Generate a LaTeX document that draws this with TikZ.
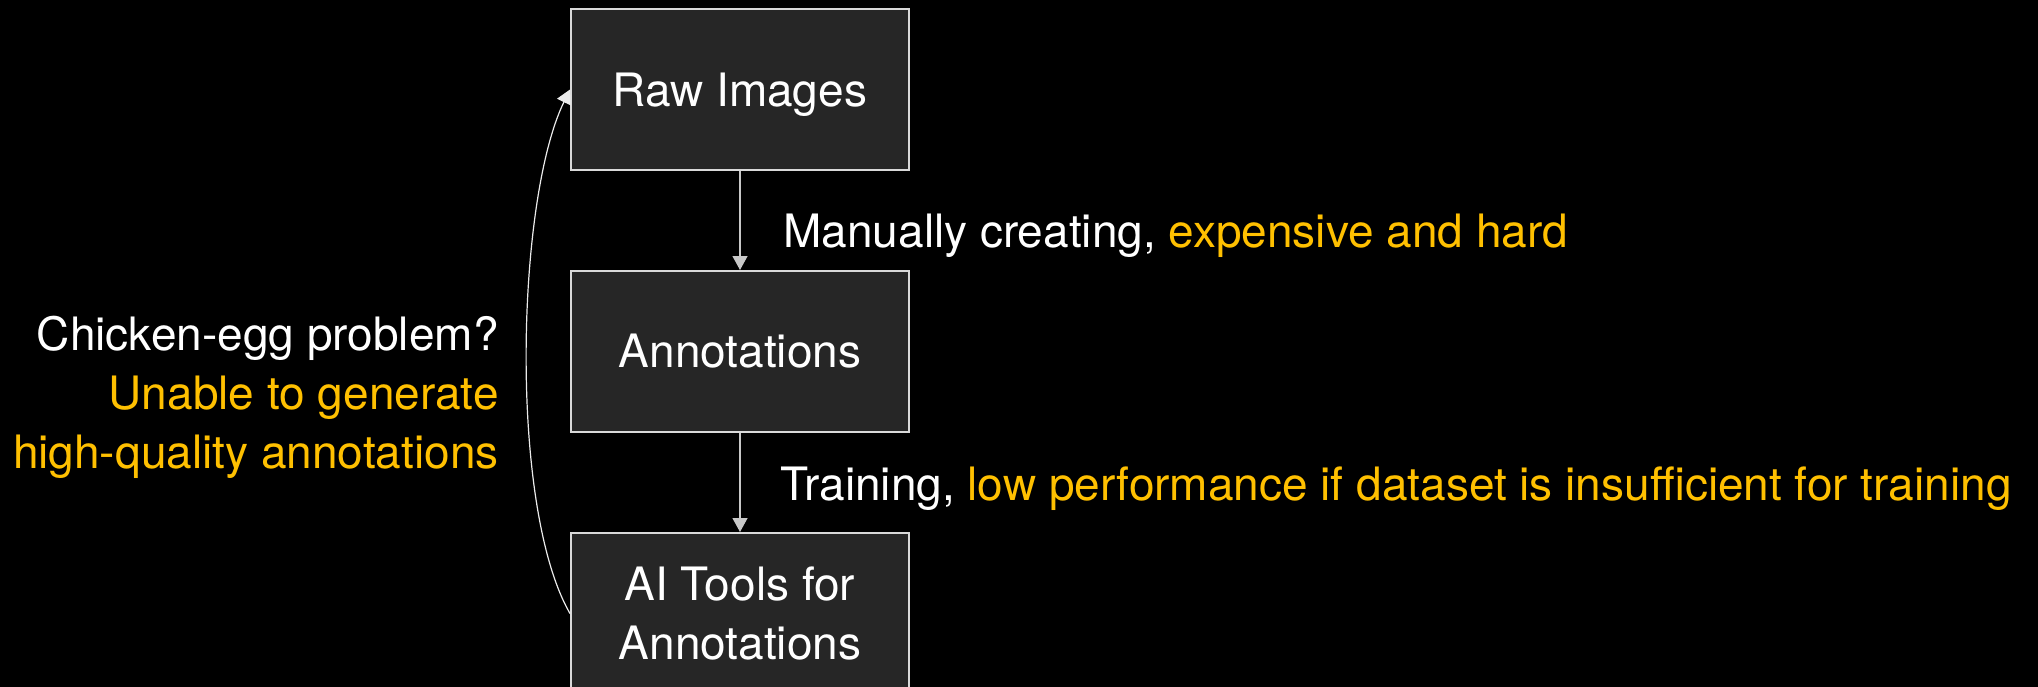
\documentclass[tikz,border=0pt]{standalone}
\usepackage{fontspec}
\setmainfont{TeX Gyre Heros}
\usetikzlibrary{positioning,arrows.meta}

\definecolor{boxfill}{HTML}{262626}
\definecolor{boxline}{HTML}{D9D9D9}
\definecolor{arrowline}{HTML}{C8C8C8}
\definecolor{warnorange}{HTML}{FFC000}

\tikzset{
  stage/.style={draw=boxline, fill=boxfill, line width=1pt, minimum width=169pt,
    minimum height=80.5pt, text=white, align=center, inner sep=0pt},
  flow/.style={draw=arrowline, line width=0.6pt, -{Triangle[length=7pt,width=7.5pt]}},
  note/.style={text=white, inner sep=0pt},
}

\begin{document}
\begin{tikzpicture}[font=\fontsize{23}{29.5}\selectfont, node distance=49.5pt]
  \useasboundingbox (0,0) rectangle (1019pt,-343pt);
  \fill[black] (-5pt,5pt) rectangle (1024pt,-348pt);
  \clip (0,0) rectangle (1019pt,-343pt);
  % the three stages
  \node[stage, text depth=0pt] (rawimg) at (370pt,-44.75pt) {Raw Images};
  \node[stage, below=of rawimg] (annot) {Annotations};
  \node[stage, below=of annot] (aitools) {AI Tools for\\Annotations};
  \draw[flow] (rawimg) -- (annot);
  \draw[flow] (annot) -- (aitools);
  % labels on the arrows
  \node[note, anchor=base west] (manlbl) at ([xshift=21.5pt,yshift=-38pt]rawimg.south)
    {Manually creating, \textcolor{warnorange}{expensive and hard}};
  \node[note, anchor=base west] (trainlbl) at ([xshift=20pt,yshift=-33.5pt]annot.south)
    {Training, \textcolor{warnorange}{low performance if dataset is insufficient for training}};
  % loop back
  \draw[flow, draw=white!92!black] (aitools.west) to[out=120, in=-116, looseness=0.6] (rawimg.west);
  \node[note, align=right, anchor=base east] (eggnote) at ([xshift=-35.5pt,yshift=-58.5pt]annot.west)
    {Chicken-egg problem?\\\textcolor{warnorange}{Unable to generate}\\\textcolor{warnorange}{high-quality annotations}};
\end{tikzpicture}
\end{document}
